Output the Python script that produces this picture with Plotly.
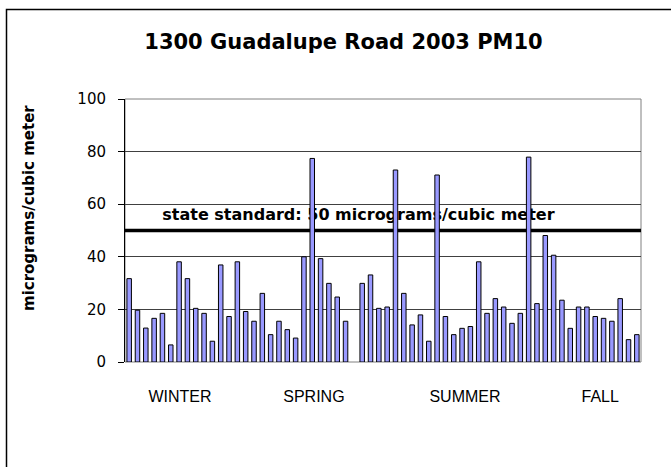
import plotly.graph_objects as go

# ---- data ----
sample_index = list(range(1, 63))
pm10_values = [31.7, 19.7, 12.9, 16.6, 18.5, 6.5, 38.1, 31.7, 20.4, 18.5,
               7.9, 36.9, 17.3, 38.1, 19.2, 15.5, 26.1, 10.4, 15.5, 12.3,
               9.1, 40.0, 77.4, 39.3, 29.9, 24.7, 15.5, None, 29.9, 33.1,
               20.4, 20.9, 73.0, 26.1, 14.1, 17.9, 7.9, 71.1, 17.3, 10.4,
               12.8, 13.5, 38.1, 18.5, 24.1, 20.9, 14.7, 18.5, 77.9, 22.2,
               48.1, 40.6, 23.5, 12.8, 20.9, 20.9, 17.3, 16.6, 15.5, 24.1,
               8.5, 10.4]
season_labels = ["WINTER", "SPRING", "SUMMER", "FALL"]
season_ticks = [7.1, 23.2, 41.35, 57.6]
state_standard = 50
y_ticks = [0, 20, 40, 60, 80, 100]

fig = go.Figure()
fig.add_trace(go.Bar(
    x=sample_index, y=pm10_values,
    marker=dict(color="#9999FF", line=dict(color="black", width=1)),
    hoverinfo="skip", showlegend=False,
))

W, H = 671, 467
L, R, T, B = 125, 30, 99, 105
pw, ph = W - L - R, H - T - B

def px_x(p):
    return (p - L) / pw

def px_y(p):
    return (H - B - p) / ph

fig.update_layout(
    width=W, height=H, autosize=False,
    margin=dict(l=L, r=R, t=T, b=B),
    paper_bgcolor="white", plot_bgcolor="white",
    bargap=0.46,
    xaxis=dict(range=[0.5, 62.5], tickvals=season_ticks, ticktext=season_labels,
               showgrid=False, zeroline=False, ticks="", showline=False,
               tickfont=dict(family="Liberation Sans, Arial", size=16, color="black"),
               ticklabelstandoff=23, fixedrange=True),
    yaxis=dict(range=[0, 100], tickvals=y_ticks, showgrid=True,
               gridcolor="#404040", gridwidth=1, zeroline=False,
               showline=True, linecolor="black", linewidth=1,
               ticks="outside", ticklen=6, tickcolor="black",
               ticklabelstandoff=9,
               tickfont=dict(family="DejaVu Sans", size=15, color="black"),
               fixedrange=True),
    title=dict(text="<b>1300 Guadalupe Road 2003 PM10</b>",
               x=343.5 / W, xref="container", xanchor="center",
               y=1 - 42 / H, yref="container", yanchor="middle",
               font=dict(family="DejaVu Sans", size=21, color="black")),
)

# plot area border (gray)
fig.add_shape(type="rect", xref="paper", yref="paper", x0=0, x1=1, y0=0, y1=1,
              line=dict(color="#808080", width=1), layer="between")
# state standard line
fig.add_shape(type="line", xref="paper", yref="y", x0=0, x1=1,
              y0=state_standard, y1=state_standard,
              line=dict(color="black", width=3.3), layer="between")
# state standard label (below bars)
fig.add_shape(type="rect", xref="x", yref="y", x0=18, x1=39.1, y0=54, y1=59,
              line=dict(width=0), fillcolor="rgba(0,0,0,0)", layer="between",
              label=dict(text="<b>state standard: 50 micrograms/cubic meter</b>",
                         textposition="middle center",
                         font=dict(family="DejaVu Sans", size=16, color="black")))
# outer chart frame
fig.add_shape(type="rect", xref="paper", yref="paper",
              x0=px_x(6.5), x1=px_x(690), y0=px_y(490), y1=px_y(9.5),
              line=dict(color="black", width=1.5), layer="above")

fig.add_annotation(text="<b>micrograms/cubic meter</b>", xref="paper", yref="paper",
                   x=px_x(29), y=px_y(208), textangle=-90, showarrow=False,
                   xanchor="center", yanchor="middle",
                   font=dict(family="DejaVu Sans", size=15, color="black"))

fig.write_html("out.html", config={"displayModeBar": False},
               post_script="document.body.style.margin='0';document.body.style.padding='0';")
